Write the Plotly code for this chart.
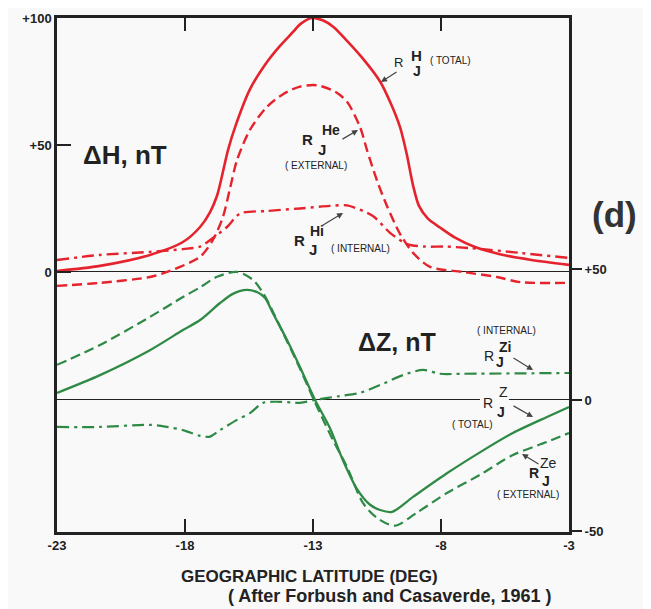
import plotly.graph_objects as go

# ---------------- data ----------------
# Upper panel: Delta H (left axis, nT)
h_total_lat = [-23.0, -21.32, -19.37, -18.08, -17.41, -17.02, -16.75, -16.55, -16.32, -16.01,
               -15.46, -14.88, -14.29, -13.78, -13.51, -13.04, -12.6, -12.2, -11.67, -11.05,
               -10.38, -9.99, -9.60, -9.33, -9.09, -8.86, -8.51, -8.04, -7.45, -6.67, -5.70, -4.52, -3.0]
h_total_val = [0.4, 2.4, 6.7, 11.8, 17.7, 23.6, 30, 38, 48, 58,
               72, 81.5, 89, 94.5, 97.5, 100, 99, 96.5, 91, 84,
               75, 67, 57, 46, 34, 26, 21, 17.5, 13.5, 9.8, 7, 4.8, 2.8]

h_ext_lat = [-23.0, -21.32, -19.37, -18.70, -17.41, -16.91, -16.52, -16.24, -15.97, -15.46,
             -14.80, -14.17, -13.51, -12.84, -12.14, -11.67, -11.16, -10.89, -10.50, -10.11,
             -9.60, -9.09, -8.43, -7.14, -5.81, -4.91, -3.0]
h_ext_val = [-5.5, -4.3, -2, 0, 6, 12.6, 21.6, 33, 44, 56,
             65, 70, 73, 73.5, 71, 67, 57, 48, 36, 26,
             15, 7.5, 2, 0, -2, -4, -4.3]

h_int_lat = [-23.0, -21.32, -19.37, -18.08, -17.41, -16.91, -16.36, -15.85, -14.80, -13.51,
             -12.34, -11.67, -10.66, -9.99, -9.33, -8.63, -7.84, -6.87, -4.91, -3.0]
h_int_val = [4.7, 6.7, 7.9, 9, 10, 13.4, 17.7, 23, 24, 25,
             26, 26.2, 22, 15.4, 11, 10, 10, 9.4, 7.5, 5.5]

# Lower panel: Delta Z (right axis, nT)
z_total_lat = [-23.0, -21.32, -19.37, -18.08, -17.41, -16.63, -16.13, -15.58, -15.19, -14.88,
               -14.56, -14.02, -13.51, -12.92, -12.34, -11.83, -11.28, -10.77, -10.38, -9.91,
               -9.09, -7.77, -6.48, -5.19, -3.86, -3.0]
z_total_val = [2.7, 9.5, 19, 26.7, 30.5, 37, 40.5, 42, 41.2, 39,
               33, 23, 12.6, 0, -10.7, -23, -34, -40, -42, -42.7,
               -37, -28, -20, -12.6, -6.5, -2.7]

z_ext_lat = [-23.0, -21.32, -19.37, -18.08, -17.41, -16.75, -15.97, -15.34, -14.95, -14.68,
             -14.02, -13.51, -12.92, -12.22, -11.67, -11.05, -10.50, -9.80, -8.94, -7.77,
             -6.48, -5.19, -3.86, -3.0]
z_ext_val = [13.4, 21, 31.7, 39.3, 43, 47, 48.9, 45.8, 40.8, 36,
             22.5, 12, -1, -15.3, -25.6, -39.3, -45, -48, -43, -35.5,
             -28.6, -21, -16, -12.6]

z_int_lat = [-23.0, -21.32, -19.37, -18.70, -18.08, -17.41, -17.02, -16.63, -15.97, -15.46,
             -14.95, -14.29, -13.51, -12.92, -11.95, -11.16, -10.38, -9.48, -8.70, -8.04,
             -7.14, -3.0]
z_int_val = [-10.3, -10.3, -9.5, -10.3, -11.5, -13.7, -14, -11.5, -7.6, -5,
             -1.1, -0.7, -1.1, 0, 1.5, 2.7, 5.7, 9.5, 11.5, 10,
             10, 10.3]

x_ticks = [-23, -18, -13, -8, -3]
h_ticks = [0, 50, 100]
h_tick_text = ["0", "+50", "+100"]
z_ticks = [-50, 0, 50]
z_tick_text = ["-50", "0", "+50"]

RED = "#e5232d"
GREEN = "#2e8a45"
FONT = "Liberation Sans, Arial, sans-serif"

fig = go.Figure()
fig.add_trace(go.Scatter(x=h_total_lat, y=h_total_val, mode="lines", line=dict(color=RED, width=2.6, shape="spline", smoothing=0.8), yaxis="y"))
fig.add_trace(go.Scatter(x=h_ext_lat, y=h_ext_val, mode="lines", line=dict(color=RED, width=2.4, dash="10px,5px", shape="spline", smoothing=0.8), yaxis="y"))
fig.add_trace(go.Scatter(x=h_int_lat, y=h_int_val, mode="lines", line=dict(color=RED, width=2.4, dash="12px,5px,3px,5px", shape="spline", smoothing=0.8), yaxis="y"))
fig.add_trace(go.Scatter(x=z_total_lat, y=z_total_val, mode="lines", line=dict(color=GREEN, width=2.3, shape="spline", smoothing=0.8), yaxis="y2"))
fig.add_trace(go.Scatter(x=z_ext_lat, y=z_ext_val, mode="lines", line=dict(color=GREEN, width=2.2, dash="10px,5px", shape="spline", smoothing=0.8), yaxis="y2"))
fig.add_trace(go.Scatter(x=z_int_lat, y=z_int_val, mode="lines", line=dict(color=GREEN, width=2.2, dash="12px,5px,3px,5px", shape="spline", smoothing=0.8), yaxis="y2"))

# page body has an 8px margin: figure is drawn 8px right/down of the window origin
OFF = 8
W, H = 651 - OFF, 609 - OFF
# plot area in window pixels: x 57..569, y 18..532
L, R, T, B = 57, 569, 18, 532


def px(xp):
    return (xp - L) / (R - L)


def py(yp):
    return (B - yp) / (B - T)


annotations = []


def txt(text, x, y, size=13, bold=True, color="#222"):
    t = "<b>%s</b>" % text if bold else text
    annotations.append(dict(text=t, x=px(x), y=py(y), xref="paper", yref="paper",
                            showarrow=False, xanchor="center", yanchor="middle",
                            font=dict(family=FONT, size=size, color=color)))


def arrow(tip, tail):
    annotations.append(dict(text="", x=px(tip[0]), y=py(tip[1]), xref="paper", yref="paper",
                            ax=tail[0] - tip[0], ay=tail[1] - tip[1], showarrow=True,
                            arrowhead=2, arrowsize=1, arrowwidth=1.2, arrowcolor="#444"))


SMALL = 10

# big labels
txt("\u0394H, nT", 125, 155, size=26)
txt("\u0394Z, nT", 397, 342, size=25)
txt("(d)", 614, 215, size=35, bold=True, color="#333")
txt("GEOGRAPHIC LATITUDE (DEG)", 309, 576, size=17)
txt("( After Forbush and Casaverde, 1961 )", 389, 596, size=18)

# R_J^H (TOTAL)
txt("R", 398, 62, 13, bold=False)
txt("H", 416, 56, 15)
txt("J", 417, 71, 14)
txt("( TOTAL)", 450, 60, SMALL, bold=False)
arrow((381, 82), (398, 71))

# R_J^He (EXTERNAL)
txt("R", 307, 139, 15)
txt("He", 331, 130, 14)
txt("J", 322, 149, 15)
txt("( EXTERNAL)", 316, 165, SMALL, bold=False)
arrow((358, 130), (341, 140))

# R_J^Hi (INTERNAL)
txt("R", 299, 240, 15)
txt("Hi", 317, 231, 14)
txt("J", 313, 250, 15)
txt("( INTERNAL)", 360, 249, SMALL, bold=False)
arrow((343, 213), (320, 227))

# R_J^Zi (INTERNAL)
txt("( INTERNAL)", 506, 330, SMALL, bold=False)
txt("Zi", 505, 347, 14)
txt("R", 489, 356, 14, bold=False)
txt("J", 500, 362, 14)
arrow((533, 370), (512, 357))

# R_J^Z (TOTAL)
txt("Z", 503, 392, 14, bold=False)
txt("R", 488, 403, 14, bold=False)
txt("J", 501, 412, 14)
txt("( TOTAL)", 472, 424, SMALL, bold=False)
arrow((533, 417), (512, 405))

# R_J^Ze (EXTERNAL)
txt("Ze", 548, 463, 14, bold=False)
txt("R", 534, 473, 14)
txt("J", 546, 481, 14)
txt("( EXTERNAL)", 528, 494, SMALL, bold=False)
arrow((522, 454), (540, 465))

shapes = [dict(type="rect", xref="paper", yref="paper", x0=px(480), x1=px(509), y0=py(402), y1=py(398),
               fillcolor="#f9f9f9", line=dict(width=0), layer="above")]

fig.update_layout(
    width=W, height=H,
    margin=dict(l=L - OFF, r=651 - R, t=T - OFF, b=609 - B, autoexpand=False),
    paper_bgcolor="#f9f9f9", plot_bgcolor="#f9f9f9",
    showlegend=False,
    font=dict(family=FONT, color="#222"),
    annotations=annotations,
    shapes=shapes,
    xaxis=dict(range=[-23, -3], tickvals=x_ticks, ticktext=["<b>%d</b>" % v for v in x_ticks],
               ticks="inside", ticklen=13, tickwidth=2, tickcolor="#222",
               showline=True, linewidth=2.5, linecolor="#222", mirror="ticks",
               showgrid=False, zeroline=False,
               tickfont=dict(family=FONT, size=13, color="#222")),
    yaxis=dict(range=[-102.4, 100], tickvals=h_ticks, ticktext=["<b>%s</b>" % t for t in h_tick_text],
               ticks="inside", ticklen=14, tickwidth=2, tickcolor="#222",
               showline=True, linewidth=2.5, linecolor="#222", mirror=True,
               showgrid=False, zeroline=True, zerolinecolor="#222", zerolinewidth=1.3,
               tickfont=dict(family=FONT, size=13, color="#222")),
    yaxis2=dict(range=[-50.4, 145.8], tickvals=z_ticks, ticktext=["<b>%s</b>" % t for t in z_tick_text],
                overlaying="y", side="right",
                ticks="outside", ticklen=12, tickwidth=2, tickcolor="#222",
                showline=False, showgrid=False,
                zeroline=True, zerolinecolor="#222", zerolinewidth=1.3,
                tickfont=dict(family=FONT, size=13, color="#222")),
)

fig.write_html("out.html")
